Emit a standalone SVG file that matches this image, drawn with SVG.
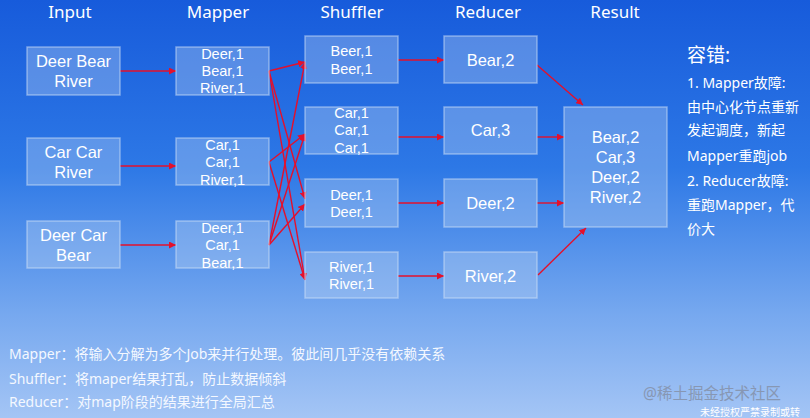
<svg xmlns="http://www.w3.org/2000/svg" width="810" height="418" viewBox="0 0 810 418">
<defs>
<linearGradient id="bg" x1="0" y1="0" x2="0" y2="1">
<stop offset="0" stop-color="#175bdb"/>
<stop offset="0.4" stop-color="#2d78e6"/>
<stop offset="0.75" stop-color="#76a8ef"/>
<stop offset="1" stop-color="#a4c5f5"/>
</linearGradient>
<marker id="ah" viewBox="0 0 10 10" refX="10" refY="5" markerWidth="7" markerHeight="7" markerUnits="userSpaceOnUse" orient="auto">
<path d="M0,0 L10,5 L0,10 z" fill="#e4102c"/>
</marker>
<style>
.box{fill:#c4daf4;fill-opacity:0.34;stroke:#d2e3f7;stroke-opacity:0.5;stroke-width:1.5}
text{font-family:"Noto Sans","Noto Sans CJK SC",sans-serif;fill:#ffffff}
.t{font-size:17px;text-anchor:middle}
.b16{font-family:"Liberation Sans",sans-serif;font-size:16.5px;text-anchor:middle}
.b14{font-family:"Liberation Sans",sans-serif;font-size:14.5px;text-anchor:middle}
.side{font-size:14px}
.note{font-size:14px;fill:#f4f8ff}
.conn line{stroke:#e4102c;stroke-width:1.4;marker-end:url(#ah)}
</style>
</defs>
<rect x="0" y="0" width="810" height="418" fill="url(#bg)"/>

<g id="titles">
<text class="t" x="70" y="18">Input</text>
<text class="t" x="218" y="18">Mapper</text>
<text class="t" x="352" y="18">Shuffler</text>
<text class="t" x="488" y="18">Reducer</text>
<text class="t" x="615" y="18">Result</text>
</g>

<g class="conn" id="connectors">
<line x1="120" y1="71" x2="176" y2="71"/>
<line x1="120" y1="166" x2="176" y2="166"/>
<line x1="120" y1="245" x2="176" y2="245"/>
<line x1="269" y1="71" x2="305" y2="62"/>
<line x1="269" y1="71" x2="305" y2="199"/>
<line x1="269" y1="71" x2="305" y2="280"/>
<line x1="269" y1="162" x2="305" y2="134"/>
<line x1="269" y1="162" x2="305" y2="280"/>
<line x1="269" y1="245" x2="305" y2="62"/>
<line x1="269" y1="245" x2="305" y2="134"/>
<line x1="269" y1="245" x2="305" y2="204"/>
<line x1="398" y1="60" x2="444" y2="60"/>
<line x1="398" y1="137" x2="444" y2="137"/>
<line x1="398" y1="203" x2="444" y2="203"/>
<line x1="398" y1="276" x2="444" y2="276"/>
<line x1="537" y1="65" x2="583" y2="105"/>
<line x1="537" y1="137" x2="564" y2="137"/>
<line x1="537" y1="203" x2="564" y2="203"/>
<line x1="538" y1="275" x2="586" y2="228"/>
</g>

<g id="input1"><rect class="box" x="27" y="47" width="93" height="48"/><text class="b16" x="73.5" y="67">Deer Bear</text><text class="b16" x="73.5" y="87">River</text></g>
<g id="input2"><rect class="box" x="27" y="138" width="93" height="47"/><text class="b16" x="73.5" y="158">Car Car</text><text class="b16" x="73.5" y="178">River</text></g>
<g id="input3"><rect class="box" x="27" y="221" width="93" height="47"/><text class="b16" x="73.5" y="241">Deer Car</text><text class="b16" x="73.5" y="261">Bear</text></g>

<g id="mapper1"><rect class="box" x="176" y="47" width="93" height="48"/><text class="b14" x="222.5" y="59">Deer,1</text><text class="b14" x="222.5" y="76">Bear,1</text><text class="b14" x="222.5" y="93">River,1</text></g>
<g id="mapper2"><rect class="box" x="176" y="138" width="93" height="47"/><text class="b14" x="222.5" y="150">Car,1</text><text class="b14" x="222.5" y="167">Car,1</text><text class="b14" x="222.5" y="185">River,1</text></g>
<g id="mapper3"><rect class="box" x="176" y="221" width="93" height="47"/><text class="b14" x="222.5" y="233">Deer,1</text><text class="b14" x="222.5" y="250">Car,1</text><text class="b14" x="222.5" y="268">Bear,1</text></g>

<g id="shuffler1"><rect class="box" x="305" y="36" width="93" height="47"/><text class="b14" x="351.5" y="56">Beer,1</text><text class="b14" x="351.5" y="74">Beer,1</text></g>
<g id="shuffler2"><rect class="box" x="305" y="107" width="93" height="47"/><text class="b14" x="351.5" y="118">Car,1</text><text class="b14" x="351.5" y="135">Car,1</text><text class="b14" x="351.5" y="153">Car,1</text></g>
<g id="shuffler3"><rect class="box" x="305" y="179" width="93" height="48"/><text class="b14" x="351.5" y="200">Deer,1</text><text class="b14" x="351.5" y="217">Deer,1</text></g>
<g id="shuffler4"><rect class="box" x="305" y="252" width="93" height="46"/><text class="b14" x="351.5" y="272">River,1</text><text class="b14" x="351.5" y="289">River,1</text></g>

<g id="reducer1"><rect class="box" x="444" y="36" width="93" height="47"/><text class="b16" x="490.5" y="66">Bear,2</text></g>
<g id="reducer2"><rect class="box" x="444" y="107" width="93" height="47"/><text class="b16" x="490.5" y="136">Car,3</text></g>
<g id="reducer3"><rect class="box" x="444" y="179" width="93" height="48"/><text class="b16" x="490.5" y="209">Deer,2</text></g>
<g id="reducer4"><rect class="box" x="444" y="252" width="93" height="46"/><text class="b16" x="490.5" y="282">River,2</text></g>

<g id="result"><rect class="box" x="564" y="107" width="103" height="120"/><text class="b16" x="615.5" y="143">Bear,2</text><text class="b16" x="615.5" y="163">Car,3</text><text class="b16" x="615.5" y="183">Deer,2</text><text class="b16" x="615.5" y="203">River,2</text></g>

<g id="fault-note">
<text x="687" y="62" style="font-size:19px">容错:</text>
<text class="side" x="687" y="88">1. Mapper故障:</text>
<text class="side" x="687" y="112">由中心化节点重新</text>
<text class="side" x="687" y="135">发起调度，新起</text>
<text class="side" x="687" y="161">Mapper重跑job</text>
<text class="side" x="687" y="186">2. Reducer故障:</text>
<text class="side" x="687" y="210">重跑Mapper，代</text>
<text class="side" x="687" y="234">价大</text>
</g>

<g id="legend">
<text class="note" x="9" y="359">Mapper：将输入分解为多个Job来并行处理。彼此间几乎没有依赖关系</text>
<text class="note" x="9" y="384">Shuffler：将maper结果打乱，防止数据倾斜</text>
<text class="note" x="9" y="407">Reducer：对map阶段的结果进行全局汇总</text>
</g>

<g id="watermark">
<text x="643" y="399" style="font-size:15.5px;fill:#8797b3">@稀土掘金技术社区</text>
<text x="700" y="416" style="font-size:10px;fill:#ffffff">未经授权严禁录制或转</text>
</g>
</svg>
